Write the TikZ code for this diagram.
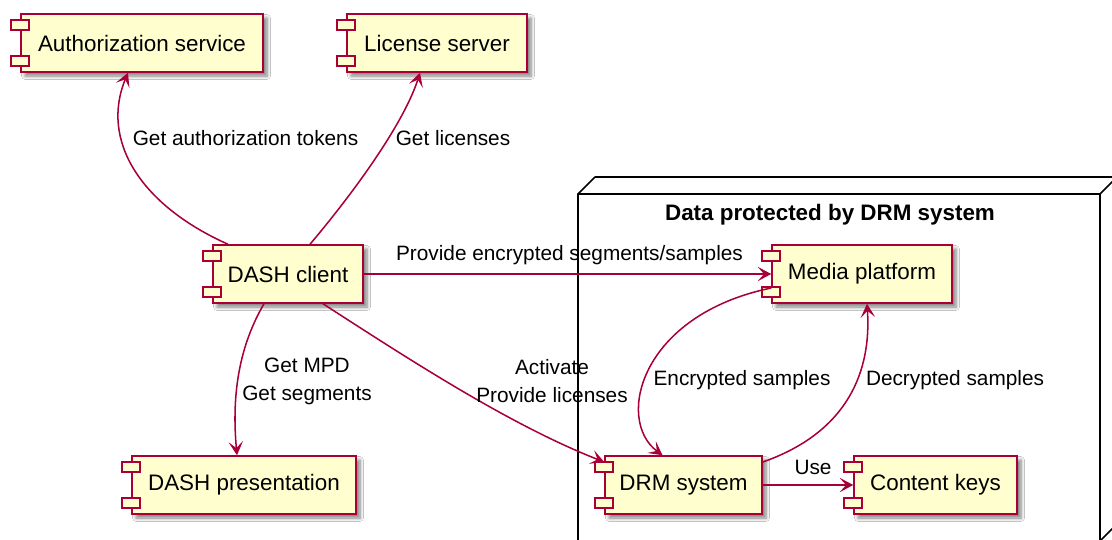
\documentclass[tikz,border=0pt]{standalone}
\usepackage{fontspec}
\setmainfont{Liberation Sans}
\usetikzlibrary{arrows.meta,calc,shadows.blur}
\definecolor{pfill}{HTML}{FEFECE}
\definecolor{pline}{HTML}{A80036}
\begin{document}
\begin{tikzpicture}[x=0.625pt,y=-0.625pt,
  comp/.style={draw=pline, fill=pfill, line width=0.95pt, minimum height=36.25pt,
    inner sep=0pt, font=\fontsize{14}{16}\selectfont,
    blur shadow={shadow xshift=2.5pt, shadow yshift=-2.5pt, shadow blur steps=6, shadow opacity=50}},
  cw/.style={minimum width=#1*0.625pt},
  icon/.style={draw=pline, fill=pfill, line width=0.95pt},
  arr/.style={draw=pline, line width=0.95pt, -{Stealth[length=8.5pt,width=9pt,inset=4pt]}},
  lbl/.style={font=\fontsize{13}{17.5}\selectfont, align=center, inner sep=0pt},
  frame/.style={draw=black, line width=0.95pt, line join=round}]
\useasboundingbox (0,0) rectangle (1112,539);
\fill[white] (0,0) rectangle (1112,539);
\clip (0,0) rectangle (1112,539);

% node frame (3D box)
\coordinate (f1) at (578,194);
\coordinate (f2) at (1100,194);
\coordinate (f3) at (1100,541);
\coordinate (f4) at (578,541);
\draw[frame, fill=white] (f1) -- (f2) -- (f3) -- (f4) -- cycle;
\draw[frame] (f1) -- ++(17,-17) -- ++(522,0) -- (f2);
\draw[frame] ($(f2)+(17,-17)$) -- ($(f3)+(17,-17)$) -- (f3);
\node[font=\fontsize{14}{16}\selectfont\bfseries, inner sep=0pt] (title) at (830,215) {Data protected by DRM system};

% components
\node[comp, cw=242] (auth) at (142,43) {Authorization service};
\node[comp, cw=180] (lic) at (437,43) {License server};
\node[comp, cw=150] (dash) at (288,274) {DASH client};
\node[comp, cw=180] (media) at (862,274) {Media platform};
\node[comp, cw=224] (pres) at (244,485) {DASH presentation};
\node[comp, cw=157] (drm) at (683.5,485) {DRM system};
\node[comp, cw=163] (keys) at (935.5,485) {Content keys};

\foreach \n in {auth,lic,dash,media,pres,drm,keys}{
  \draw[icon] ($(\n.north west)+(-9,7)$) rectangle ++(18,10);
  \draw[icon] ($(\n.north west)+(-9,43)$) rectangle ++(18,10);
}

% connectors
\draw[arr] ($(dash.north)+(-60,0)$) .. controls (140,205) and (100,140) .. ($(auth.south)+(-14,0)$);
\draw[arr] ($(dash.north)+(22,0)$) .. controls (360,185) and (405,120) .. ($(lic.south)+(-17,0)$);
\draw[arr] (dash.east) -- (media.west);
\draw[arr] ($(dash.south)+(-24,0)$) .. controls (237,350) and (232,400) .. ($(pres.north)+(-7,0)$);
\draw[arr] ($(dash.south)+(35,0)$) .. controls (410,360) and (510,425) .. ($(drm.west)+(0,-23)$);
\draw[arr] ($(media.west)+(0,14)$) .. controls (640,315) and (615,420) .. ($(drm.north)+(-21,0)$);
\draw[arr] ($(drm.east)+(0,-23)$) .. controls (840,435) and (872,380) .. ($(media.south)+(5,0)$);
\draw[arr] (drm.east) -- (keys.west);

% labels
\node[lbl] (l1) at (245.5,138) {Get authorization tokens};
\node[lbl] (l2) at (453,138) {Get licenses};
\node[lbl] (l3) at (569.5,255) {Provide encrypted segments/samples};
\node[lbl] (l4) at (307,381) {Get MPD\\Get segments};
\node[lbl] (l5) at (552,381) {Activate\\Provide licenses};
\node[lbl] (l6) at (742,380) {Encrypted samples};
\node[lbl] (l7) at (955,380) {Decrypted samples};
\node[lbl] (l8) at (813,467) {Use};
\end{tikzpicture}
\end{document}
